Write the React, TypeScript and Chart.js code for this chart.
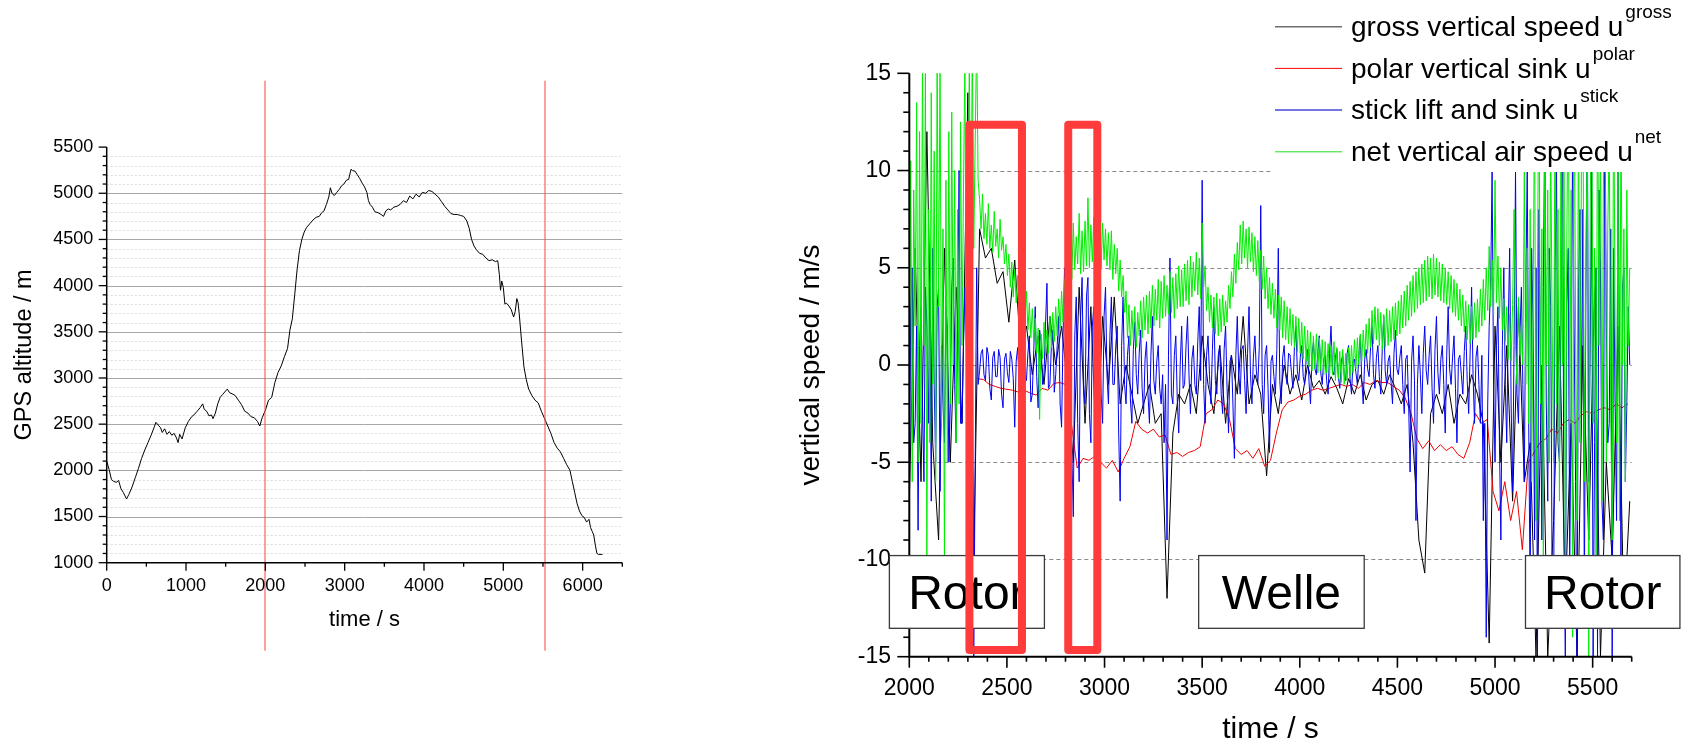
import React, { useEffect, useRef } from "react";
import { Chart, registerables } from "chart.js";

Chart.register(...registerables);

const FONT = "'Liberation Sans', Arial, Helvetica, sans-serif";

// ---------------- Left panel: GPS altitude ----------------
const altTime = [
  0, 30, 60, 90, 120, 150, 180, 210, 250, 280,
  320, 360, 400, 440, 480, 520, 560, 600, 620, 650,
  680, 700, 730, 760, 790, 820, 850, 880, 900, 920,
  950, 990, 1030, 1070, 1100, 1140, 1180, 1210, 1230, 1260,
  1290, 1320, 1340, 1370, 1400, 1430, 1460, 1500, 1520, 1550,
  1580, 1620, 1660, 1700, 1740, 1780, 1820, 1860, 1900, 1930,
  1960, 2000, 2040, 2080, 2120, 2160, 2200, 2240, 2280, 2310,
  2340, 2370, 2400, 2430, 2460, 2490, 2520, 2560, 2600, 2640,
  2680, 2710, 2740, 2770, 2800, 2820, 2840, 2870, 2900, 2930,
  2960, 2990, 3020, 3050, 3080, 3100, 3130, 3160, 3190, 3220,
  3250, 3280, 3300, 3320, 3350, 3380, 3420, 3460, 3490, 3520,
  3550, 3580, 3620, 3660, 3700, 3740, 3780, 3820, 3860, 3900,
  3940, 3980, 4020, 4060, 4100, 4140, 4180, 4220, 4260, 4300,
  4340, 4380, 4420, 4460, 4500, 4540, 4570, 4600, 4630, 4660,
  4700, 4740, 4780, 4820, 4860, 4900, 4930, 4950, 4965, 4980,
  5000, 5020, 5040, 5070, 5100, 5130, 5150, 5170, 5185, 5200,
  5230, 5260, 5290, 5320, 5360, 5400, 5440, 5480, 5520, 5560,
  5600, 5640, 5680, 5720, 5760, 5800, 5840, 5870, 5900, 5930,
  5960, 5990, 6020, 6050, 6080, 6100, 6120, 6140, 6160, 6180,
  6200, 6250,
];
const altValue = [
  2100, 2010, 1900, 1880, 1870, 1890, 1800, 1760, 1690, 1740,
  1820, 1920, 2020, 2130, 2220, 2300, 2380, 2470, 2520, 2490,
  2460, 2410, 2450, 2390, 2420, 2380, 2400, 2350, 2300, 2390,
  2340, 2460, 2530, 2580, 2600, 2640, 2680, 2720, 2660, 2640,
  2590, 2600, 2560, 2620, 2720, 2790, 2820, 2860, 2880, 2840,
  2830, 2810, 2760, 2710, 2640, 2620, 2580, 2570, 2530, 2480,
  2570, 2650, 2760, 2790, 2950, 3060, 3130, 3230, 3320, 3520,
  3640, 3900, 4170, 4380, 4500, 4580, 4630, 4670, 4710, 4740,
  4750, 4790, 4810, 4880, 4960, 5060, 5000, 4975, 5010, 5040,
  5080, 5100, 5140, 5150, 5260, 5245, 5240, 5200, 5160, 5110,
  5070, 5010, 4920, 4880, 4850, 4800, 4790, 4770, 4750, 4810,
  4830, 4820, 4850, 4860, 4880, 4920, 4900, 4970, 4940, 4990,
  4960, 5010, 5000, 5030, 5020, 4990, 4960, 4910, 4860, 4820,
  4780, 4770, 4770, 4760, 4750, 4700, 4620, 4500, 4430, 4390,
  4350, 4340, 4300, 4270, 4280, 4260, 4270, 4120, 3950, 4050,
  3980, 3800, 3810, 3780, 3740, 3660, 3720, 3860, 3820, 3700,
  3400, 3120, 2980, 2880, 2810, 2760, 2730, 2640, 2560, 2480,
  2400, 2300, 2240, 2200, 2130, 2060, 2000, 1880, 1760, 1640,
  1560, 1510, 1490, 1440, 1470, 1380, 1340, 1300, 1190, 1100,
  1090, 1090,
];
const altXAxis = { min: 0, max: 6500, major: 1000, minor: 500, lastLabel: 6000 };
const altYAxis = { min: 1000, max: 5500, major: 500, minor: 100 };
const altMarkerTimes = [2000, 5530];
const altMarkerSpan = [6219, 47];

// ---------------- Right panel: vertical speeds ----------------
// net vertical air speed
const netEarlyStart = 2000;
const netEarlyStep = 7.5;
const netEarly = [
  -2, 10.5, -6, 9, 2, 13.5, -5, 12, -3, 16,
  1, 15, -10, 8, -4, 14, -1, 11, -6, 16,
  3, 16, -3, 7, -10, 9.5, -5, 12, -2, 13,
  0, 10, -4, 8, -2, 12.5, 1, 9, 16, -2,
  5, 16, 3, 17, 6,
];
const netMainStart = 2345;
const netMainStep = 7.5;
const netMain = [
  17, 9.5, 8.5, 7.0, 8.8, 6.5, 7.8, 6.2, 8.3, 6.0, 7.2, 5.8, 7.9, 6.1, 7.0, 5.5, 7.5, 5.9, 6.6, 5.2,
  6.2, 4.6, 5.7, 4.0, 5.3, 3.5, 4.9, 3.2, 4.6, 2.9, 4.3, 2.4, 3.6, 2.2, 3.8, 1.8, 3.2, 1.4, 2.9, 1.2,
  2.4, 0.6, 1.9, -2.8, 1.6, 0.3, 2.2, 0.5, 1.8, 0.6, 2.5, 0.9, 2.7, 1.2, 3.0, 1.5, 3.4, 1.9, 3.8, 2.2,
  4.4, 2.8, 5.0, 3.6, 6.3, 4.4, 7.3, 4.9, 6.6, 5.2, 7.8, 4.7, 6.9, 4.8, 7.4, 5.1, 8.6, 5.0, 7.2, 5.3,
  7.6, 5.2, 7.1, 5.6, 8.2, 5.0, 7.3, 5.4, 7.0, 5.1, 6.8, 4.9, 6.9, 4.4, 6.2, 4.7, 6.0, 3.8, 5.4, 3.5,
  4.6, 2.7, 3.8, 1.4, 3.1, 1.0, 2.8, 1.3, 3.0, 0.9, 2.7, 1.5, 3.3, 1.4, 3.5, 1.8, 3.6, 1.6, 3.8, 1.9,
  4.1, 2.0, 3.9, 2.3, 4.4, 1.9, 4.3, 2.4, 4.6, 2.5, 4.1, 2.6, 4.8, 2.7, 4.5, 2.4, 4.7, 2.9, 5.1, 3.0,
  4.9, 3.0, 5.2, 3.3, 5.4, 3.1, 5.6, 3.5, 5.3, 3.8, 5.8, 3.6, 5.5, 3.4, 7.3, 4.0, 5.1, 2.8, 4.0, 2.2,
  3.6, 1.9, 3.5, 1.6, 3.7, 1.5, 3.4, 1.7, 3.6, 2.0, 3.3, 2.2, 4.1, 2.9, 4.8, 3.5, 5.7, 4.2, 6.3, 4.9,
  7.2, 5.2, 7.4, 5.5, 7.0, 5.0, 7.1, 5.3, 6.8, 4.8, 6.6, 4.6, 6.4, 4.3, 5.9, 3.9, 5.6, 3.4, 5.0, 2.9,
  4.5, 2.6, 4.2, 2.4, 3.9, 1.9, 3.6, 1.8, 3.5, 1.4, 3.3, 1.3, 3.0, 1.1, 2.9, 1.0, 2.6, 0.9, 2.5, 0.7,
  2.4, 0.6, 2.2, 0.3, 2.0, 0.2, 1.8, -0.1, 1.7, -0.3, 1.5, -0.2, 1.6, -0.4, 1.4, -0.3, 1.3, -0.5, 1.2, -0.4,
  1.1, -0.6, 1.0, -0.5, 1.2, -0.8, 0.9, -0.7, 0.7, -0.9, 0.8, -1.0, 0.6, -0.8, 0.9, -0.6, 1.0, -0.4, 1.3, -0.2,
  1.4, 0.0, 1.6, 0.2, 1.8, 0.4, 2.1, 0.6, 2.4, 0.9, 2.8, 1.1, 3.0, 1.3, 2.9, 1.0, 2.7, 0.8, 2.6, 0.9,
  2.9, 1.0, 2.8, 1.2, 3.0, 1.3, 3.2, 1.5, 3.3, 1.6, 3.6, 1.9, 3.8, 2.0, 4.1, 2.3, 4.3, 2.5, 4.6, 2.7,
  4.8, 2.9, 5.0, 3.1, 5.2, 3.2, 5.4, 3.3, 5.6, 3.5, 5.5, 3.4, 5.7, 3.6, 5.5, 3.5, 5.3, 3.3, 5.2, 3.2,
  5.0, 3.1, 4.8, 2.9, 4.6, 2.7, 4.4, 2.5, 4.2, 2.3, 3.9, 2.0, 3.6, 1.7, 3.3, 1.3, 3.1, 1.1, 3.0, 1.3,
  3.2, 1.4, 3.4, 1.7, 3.9, 2.0, 4.4, 2.3, 5.0, 2.8, 6.1, 3.0, 5.4, 2.6, 9.5, 3.2, 5.6, 2.4, 5.0, 1.8,
  3.4, 1.2, 3.0, 0.3, 2.6, 0.2, 3.1, 8.0, 1.0, -1.0, 3.5, 0.5, 2.0, 0.0,
];
const netLateStart = 5150;
const netLateStep = 7.5;
const netLate = [
  10, -1, 6, -3, 8, -6, 3, 14, -8, 5, 16, -2, 7, -10, 12, 0, 9, -5, 12, 2,
  -5, 16, -2, 8, -7, 11, 0, 16, -12, 6, 16, -3, 9, -14, 16, 2, -8, 14, -4, 10,
  16, -6, 5, 12, -15, 8, 16, -3, 6, -10, 16, 1, 12, -7, 9, 16, -5, 7, 12, -2,
  -9, 16, 2, -4, 10, -8, 14, 0, 7, -6, 9, 1, 5,
];

// stick lift and sink
const stickEarlyStart = 2000;
const stickEarlyStep = 7.5;
const stickEarly = [
  -7, 3, 5, -4, -3, 2, -8.5, 1, 3, -2,
  -6, 4, 2, -3, 4, -7, 6, -1, -5, 3,
  4, -6.5, 1, -2, -4, 3, 2, -5, -2, 4,
  5.5, -1, -4, 2, 10, -3, -3, 1, 4, 1,
  -6, 2, -3, 4, -15,
];
const stickMainStart = 2345;
const stickMainStep = 7.5;
const stickMain = [
  5, -1.0, -0.3, 0.6, 0.8, -0.5, -0.8, 0.9, 0.5, -1.2, -1.8, 0.4, 0.7, -0.6, -0.6, 0.8, 0.4, -1.5, -2.2, 0.3,
  0.6, -0.4, -0.9, 0.7, 0.3, -0.7, -3.2, 0.2, 0.9, -0.8, -1.0, 1.4, 2.5, -0.5, -0.8, 0.6, 1.5, -1.9, -1.5, 0.8,
  3.0, -0.6, -2.2, 1.8, 1.2, -1.0, -0.5, 2.0, 4.2, -1.2, -1.0, 0.9, 1.8, -1.4, -0.5, 1.0, 2.5, -2.0, -3.2, 1.5,
  5.0, -2.0, -5.5, 3.0, 2.0, -4.5, -7.8, 1.5, 3.5, -3.0, -6.0, 2.5, 4.5, -1.0, -2.0, 3.5, 4.5, -2.5, -4.0, 2.0,
  3.0, -3.5, -5.5, 1.5, 2.5, -1.5, -3.0, 2.5, 4.0, -0.5, -2.0, 1.5, 3.5, -1.0, -1.0, 1.0, 2.0, -3.5, -7.0, 1.0,
  3.5, -1.0, -2.0, 0.5, 1.5, -1.8, -3.0, 0.8, 2.2, -0.5, -1.5, 0.6, 1.8, -1.2, -2.5, 0.3, 1.2, -1.5, -3.0, 0.5,
  2.5, -0.8, -1.5, 0.2, 1.0, -1.2, -2.0, -0.5, -4.0, -1.0, -9.0, 0.5, 5.5, -1.5, -2.0, 0.5, 1.5, -1.8, -3.5, 0.0,
  2.0, -1.2, -1.0, 1.0, 2.5, -0.5, -2.5, 0.3, 1.0, -1.0, -1.5, 1.2, 3.0, -0.8, 9.5, -1.0, -3.0, 0.5, 1.5, -0.5,
  -2.0, 0.8, 3.0, -0.8, -1.5, 0.5, 1.0, -1.5, -2.5, 0.8, 2.0, -1.2, -3.5, 0.2, 0.5, -2.0, -4.8, 0.5, 2.5, -0.5,
  -1.5, 0.8, 1.0, -0.8, -2.5, 0.6, 3.0, -0.5, -2.0, 0.4, 1.5, -0.3, -1.0, 0.9, 8.2, -1.0, -2.5, 0.5, 1.0, -1.2,
  -4.5, 0.2, 0.5, -0.6, -1.5, 0.8, 6.0, -0.8, -2.0, 0.4, 1.0, -0.5, -1.0, 0.6, 0.5, -0.4, -1.2, 0.9, 2.0, -0.3,
  -0.8, 0.4, 1.0, -0.6, -1.0, 0.3, 0.8, -0.9, -2.0, 0.5, 1.2, -0.2, -0.5, 0.7, 1.5, -0.4, -1.0, 0.3, 0.5, -0.8,
  -1.5, 0.6, 2.0, -0.3, -0.5, 0.4, 0.8, -0.6, -1.2, 0.2, 0.5, -0.5, -0.8, 0.6, 1.0, -0.7, -1.5, 0.2, 0.3, -0.4,
  -1.0, 0.5, 1.5, -0.8, -2.0, 0.3, 0.8, -0.2, -0.6, 0.9, 2.0, -0.5, -1.2, 0.4, 1.0, -0.6, -1.5, 0.8, 2.5, -0.3,
  -1.0, 0.2, 0.5, -0.9, -2.0, 0.6, 1.8, -0.2, -0.5, 0.4, 1.0, -1.0, -2.5, 0.3, 0.5, -2.0, -5.5, 0.2, 1.5, -0.8,
  -8.0, -1.0, 1.0, -0.5, -2.5, 0.6, 2.0, -0.3, -1.0, 0.5, 1.5, -1.2, -3.0, 0.8, 2.5, -0.4, -1.5, 0.3, 1.0, -1.0,
  -3.5, 0.5, 3.0, -0.2, -1.0, 0.4, 1.5, -1.2, -4.0, 0.3, 0.5, -0.5, -1.5, 0.7, 2.0, -0.8, -2.5, 0.6, 4.0, -0.6,
  -3.0, 0.4, 1.0, -1.0, -3.0, 0.5, -8.0, -3.0, -14.0, -2.0, 2.0, 4.0, 10.0, -1.0, -5.0, 1.0, 3.0, -4.0, -9.0, 1.0,
  5.0, -1.0, -4.0, 2.0, 6.0, -2.0, -6.5, 1.0, 10.0, -1.5, -3.0, 1.5, 4.0, -1.0,
];
const stickLateStart = 5150;
const stickLateStep = 7.5;
const stickLate = [
  -6, 4, 10, -3, -12, 6, 2, -9, 5, -15, 8, 0, -9, 4, 13, -2, -7, 6, 3, -11,
  -13, 5, 10, -4, -5, 2, 15, -8, -15, 3, 6, -10, -2, 12, 2, -6, -15, 4, 8, -3,
  8, -12, 3, 14, -6, 1, 10, -15, -4, 5, -15, 9, 5, -7, -9, 15, 2, -4, -3, 7,
  -15, 6, -2, -8, 11, 0, -10, 4, 5, -6, -2, 3, 0,
];

// gross vertical speed
const grossStart = 2000;
const grossStep = 30;
const grossValues = [
  -7, 6, -6, 12, -4, -9, 6, -5, 4, -3,
  14, -10, 7.0, 5.5, 6.0, 4.2, 4.8, 2.2, 5.4, 0.8,
  2.0, -0.5, 1.5, -1.0, 2.5, 0.0, 2.0, -1.0, -5.0, 4.0,
  -3.0, 3.0, -5.0, 2.5, -1.0, 3.5, -2.0, 0.0, -1.5, -3.0,
  -2.0, -1.0, -3.0, -2.5, -12.0, -3.5, -1.5, -2.0, -1.0, -2.5,
  1.5, -1.0, -2.5, 1.0, -3.0, 0.5, -1.5, 2.5, -2.0, -0.5,
  -1.5, -5.7, -1.0, -2.5, 0.0, -1.5, -0.5, -1.8, 0.0, -1.2,
  -0.8, -1.5, -0.6, -1.2, -2.0, -0.7, -1.5, -0.5, -1.8, -1.0,
  -0.8, -1.5, -0.5, -1.2, -2.0, -1.0, -4.0, -9.0, -10.7, -2.5,
  -1.5, -2.5, -1.0, -3.0, -1.5, -2.0, -0.5, -1.5, -3.0, -14.3,
  2, -5, 1, -7, 3, -6, -4, -15, 0, -15,
  -8, 2, -12, -3, -15, 1, -9, 4, -15, -5,
  -10, 2, -13, -7,
];

// polar vertical sink
const polarStart = 2350;
const polarStep = 30;
const polarValues = [
  -0.7, -0.75, -1.0, -1.1, -1.2, -1.25, -1.3, -1.4, -1.3, -1.45,
  -1.55, -1.2, -1.3, -0.95, -0.9, -1.0, -3.0, -5.3, -4.8, -4.9,
  -4.7, -5.0, -5.3, -4.9, -5.5, -4.8, -4.2, -2.9, -3.3, -3.5,
  -3.3, -3.7, -3.6, -4.6, -4.5, -4.7, -4.5, -4.4, -4.2, -2.5,
  -2.3, -1.8, -2.0, -2.8, -4.3, -4.6, -4.4, -4.8, -4.3, -5.2,
  -4.9, -3.5, -2.3, -1.9, -1.8, -1.6, -1.5, -1.3, -1.2, -1.3,
  -1.2, -1.1, -1.0, -1.1, -1.0, -1.2, -0.9, -1.0, -0.8, -0.9,
  -0.9, -1.1, -1.3, -1.7, -2.5, -3.8, -4.3, -3.9, -4.4, -4.1,
  -4.4, -4.2, -4.6, -4.8, -4.0, -2.5, -3.0, -2.8, -6.5, -7.5,
  -6.0, -8.0, -6.5, -9.5, -5.0, -4.5, -4.0, -3.8, -3.3, -3.5,
  -3.0, -2.8, -3.0, -2.6, -2.4, -2.5, -2.3, -2.2, -2.3, -2.0,
  -2.2, -2.0,
];

const speedXAxis = { min: 2000, max: 5700, major: 500, minor: 100, lastLabel: 5500 };
const speedYAxis = { min: -15, max: 15, major: 5, minor: 1 };
const speedGridValues = [-10, -5, 0, 5, 10];

const legendEntries = [
  { text: "gross vertical speed u", sup: "gross", color: "#6e6e6e", width: 1.5 },
  { text: "polar vertical sink u", sup: "polar", color: "#ff0000", width: 1 },
  { text: "stick lift and sink u", sup: "stick", color: "#7474e6", width: 2 },
  { text: "net vertical air speed u", sup: "net", color: "#22e022", width: 1 },
];
const phaseBoxes = [
  { text: "Rotor", from: 1898, to: 2692, top: -9.8, bottom: -13.54 },
  { text: "Welle", from: 3482, to: 4330, top: -9.8, bottom: -13.54 },
  { text: "Rotor", from: 5156, to: 5947, top: -9.8, bottom: -13.54 },
];
const highlightWindows = [
  { from: 2308, to: 2577, top: 12.35, bottom: -14.65 },
  { from: 2814, to: 2963, top: 12.35, bottom: -14.65 },
];

const toPoints = (start: number, step: number, values: number[]) =>
  values.map((v, i) => ({ x: start + i * step, y: v }));

const crisp = (p: number) => Math.round(p) + 0.5;

// ---------------- plugins ----------------
const altitudePlugin = {
  id: "altitudeDecor",
  beforeDatasetsDraw(chart: any) {
    const { ctx, chartArea: ca, scales } = chart;
    const y = scales.y;
    ctx.save();
    for (let v = altYAxis.min + altYAxis.minor; v < altYAxis.max; v += altYAxis.minor) {
      const py = crisp(y.getPixelForValue(v));
      const major = v % altYAxis.major === 0;
      ctx.beginPath();
      ctx.lineWidth = 1;
      ctx.strokeStyle = major ? "#a8a8a8" : "#dcdcdc";
      ctx.setLineDash(major ? [] : [2, 2]);
      ctx.moveTo(ca.left, py);
      ctx.lineTo(ca.right, py);
      ctx.stroke();
    }
    ctx.restore();
  },
  afterDatasetsDraw(chart: any) {
    const { ctx, chartArea: ca, scales } = chart;
    const x = scales.x;
    const y = scales.y;
    ctx.save();
    // red time markers (soft, two-pixel wide like the original)
    ctx.strokeStyle = "#ff4040";
    ctx.lineWidth = 1;
    altMarkerTimes.forEach((t) => {
      const px = Math.round(x.getPixelForValue(t));
      ctx.beginPath();
      ctx.moveTo(px, y.getPixelForValue(altMarkerSpan[0]));
      ctx.lineTo(px, y.getPixelForValue(altMarkerSpan[1]));
      ctx.stroke();
    });
    // axes
    ctx.strokeStyle = "#000";
    ctx.lineWidth = 1.5;
    ctx.beginPath();
    ctx.moveTo(ca.left, ca.top);
    ctx.lineTo(ca.left, ca.bottom);
    ctx.lineTo(ca.right, ca.bottom);
    ctx.stroke();
    ctx.lineWidth = 1.3;
    for (let v = altYAxis.min; v <= altYAxis.max; v += altYAxis.minor) {
      const py = y.getPixelForValue(v);
      const len = v % altYAxis.major === 0 ? 8 : 4;
      ctx.beginPath();
      ctx.moveTo(ca.left - len, py);
      ctx.lineTo(ca.left, py);
      ctx.stroke();
    }
    ctx.fillStyle = "#000";
    ctx.font = `18px ${FONT}`;
    ctx.textAlign = "center";
    ctx.textBaseline = "alphabetic";
    for (let v = altXAxis.min; v <= altXAxis.max; v += altXAxis.minor) {
      const px = x.getPixelForValue(v);
      const major = v % altXAxis.major === 0;
      const len = major ? 8 : 4;
      ctx.beginPath();
      ctx.moveTo(px, ca.bottom);
      ctx.lineTo(px, ca.bottom + len);
      ctx.stroke();
      if (major && v <= altXAxis.lastLabel) ctx.fillText(String(v), px, ca.bottom + 28);
    }
    ctx.restore();
  },
};

const speedPlugin = {
  id: "speedDecor",
  beforeDatasetsDraw(chart: any) {
    const { ctx, chartArea: ca, scales } = chart;
    const y = scales.y;
    ctx.save();
    ctx.strokeStyle = "#8a8a8a";
    ctx.lineWidth = 1;
    ctx.setLineDash([4, 3]);
    speedGridValues.forEach((v) => {
      const py = crisp(y.getPixelForValue(v));
      ctx.beginPath();
      ctx.moveTo(ca.left, py);
      ctx.lineTo(ca.right, py);
      ctx.stroke();
    });
    ctx.restore();
  },
  afterDatasetsDraw(chart: any) {
    const { ctx, chartArea: ca, scales, width } = chart;
    const x = scales.x;
    const y = scales.y;
    ctx.save();
    // axes
    ctx.strokeStyle = "#000";
    ctx.lineWidth = 2;
    ctx.beginPath();
    ctx.moveTo(ca.left, ca.top);
    ctx.lineTo(ca.left, ca.bottom);
    ctx.lineTo(ca.right, ca.bottom);
    ctx.stroke();
    ctx.lineWidth = 1.6;
    for (let v = speedYAxis.min; v <= speedYAxis.max; v += speedYAxis.minor) {
      const py = y.getPixelForValue(v);
      const len = v % speedYAxis.major === 0 ? 12 : 6;
      ctx.beginPath();
      ctx.moveTo(ca.left - len, py);
      ctx.lineTo(ca.left, py);
      ctx.stroke();
    }
    ctx.fillStyle = "#000";
    ctx.font = `23px ${FONT}`;
    ctx.textAlign = "center";
    ctx.textBaseline = "alphabetic";
    for (let v = speedXAxis.min; v <= speedXAxis.max; v += speedXAxis.minor) {
      const px = x.getPixelForValue(v);
      const major = v % speedXAxis.major === 0;
      const len = major ? 11 : 5;
      ctx.beginPath();
      ctx.moveTo(px, ca.bottom);
      ctx.lineTo(px, ca.bottom + len);
      ctx.stroke();
      if (major && v <= speedXAxis.lastLabel) ctx.fillText(String(v), px, ca.bottom + 38.5);
    }
    // legend
    const legLeft = 572;
    ctx.fillStyle = "#fff";
    ctx.fillRect(legLeft, 0, width - legLeft, 172);
    legendEntries.forEach((e, i) => {
      const ry = 26.7 + i * 41.7;
      ctx.strokeStyle = e.color;
      ctx.lineWidth = e.width;
      ctx.beginPath();
      ctx.moveTo(575, ry);
      ctx.lineTo(642, ry);
      ctx.stroke();
      ctx.fillStyle = "#000";
      ctx.font = `28px ${FONT}`;
      ctx.textAlign = "left";
      ctx.textBaseline = "alphabetic";
      ctx.fillText(e.text, 651, ry + 9.3);
      const w = ctx.measureText(e.text).width;
      ctx.font = `19px ${FONT}`;
      ctx.fillText(e.sup, 651 + w + 2, ry - 8.4);
    });
    // phase boxes
    phaseBoxes.forEach((b) => {
      const x0 = x.getPixelForValue(b.from);
      const x1 = x.getPixelForValue(b.to);
      const y0 = y.getPixelForValue(b.top);
      const y1 = y.getPixelForValue(b.bottom);
      ctx.fillStyle = "#fff";
      ctx.fillRect(x0, y0, x1 - x0, y1 - y0);
      ctx.strokeStyle = "#3a3a3a";
      ctx.lineWidth = 1.3;
      ctx.strokeRect(x0, y0, x1 - x0, y1 - y0);
      ctx.fillStyle = "#000";
      ctx.font = `48px ${FONT}`;
      ctx.textAlign = "center";
      ctx.textBaseline = "alphabetic";
      ctx.fillText(b.text, (x0 + x1) / 2, (y0 + y1) / 2 + 17.5);
    });
    // highlight windows
    ctx.strokeStyle = "#ff3b3b";
    ctx.lineWidth = 8;
    ctx.lineJoin = "round";
    highlightWindows.forEach((r) => {
      const x0 = x.getPixelForValue(r.from);
      const x1 = x.getPixelForValue(r.to);
      const y0 = y.getPixelForValue(r.top);
      const y1 = y.getPixelForValue(r.bottom);
      ctx.strokeRect(x0, y0, x1 - x0, y1 - y0);
    });
    ctx.restore();
  },
};

// ---------------- components ----------------
function AltitudeChart() {
  const ref = useRef<HTMLCanvasElement | null>(null);
  useEffect(() => {
    if (!ref.current) return;
    const chart = new Chart(ref.current, {
      type: "line",
      data: {
        datasets: [
          {
            label: "GPS altitude",
            data: altTime.map((t, i) => ({ x: t, y: altValue[i] })),
            borderColor: "#000",
            borderWidth: 1,
            pointRadius: 0,
            tension: 0,
            fill: false,
          },
        ],
      },
      options: {
        animation: false,
        responsive: false,
        devicePixelRatio: 1,
        layout: { padding: { left: 0, top: 147.1, right: 77.7, bottom: 0 } },
        plugins: { legend: { display: false }, tooltip: { enabled: false } },
        scales: {
          x: {
            type: "linear",
            min: altXAxis.min,
            max: altXAxis.max,
            grid: { display: false, drawTicks: false },
            border: { display: false },
            ticks: { display: false },
            title: {
              display: true,
              text: "time / s",
              color: "#000",
              font: { family: FONT, size: 22, lineHeight: 1 },
              padding: { top: 0, bottom: 112 },
            },
            afterFit: (s: any) => {
              s.height = 180.3;
            },
          },
          y: {
            type: "linear",
            min: altYAxis.min,
            max: altYAxis.max,
            grid: { display: false, drawTicks: false },
            border: { display: false },
            ticks: {
              stepSize: altYAxis.major,
              autoSkip: false,
              padding: 13.4,
              color: "#000",
              font: { family: FONT, size: 18 },
              callback: (v: any) => String(v),
            },
            title: {
              display: true,
              text: "GPS altitude / m",
              color: "#000",
              font: { family: FONT, size: 23.5, lineHeight: 1 },
              padding: { top: 12.5, bottom: 0 },
            },
            afterFit: (s: any) => {
              s.width = 106.7;
            },
          },
        },
      },
      plugins: [altitudePlugin],
    } as any);
    return () => chart.destroy();
  }, []);
  return (
    <canvas
      ref={ref}
      width={700}
      height={743}
      style={{ position: "absolute", left: 0, top: 0, width: 700, height: 743 }}
    />
  );
}

function SpeedChart() {
  const ref = useRef<HTMLCanvasElement | null>(null);
  useEffect(() => {
    if (!ref.current) return;
    const line = (label: string, data: any[], color: string, order: number) => ({
      label,
      data,
      borderColor: color,
      borderWidth: 1,
      pointRadius: 0,
      tension: 0,
      fill: false,
      order,
    });
    const netData = [
      ...toPoints(netEarlyStart, netEarlyStep, netEarly),
      ...toPoints(netMainStart, netMainStep, netMain),
      ...toPoints(netLateStart, netLateStep, netLate),
    ];
    const stickData = [
      ...toPoints(stickEarlyStart, stickEarlyStep, stickEarly),
      ...toPoints(stickMainStart, stickMainStep, stickMain),
      ...toPoints(stickLateStart, stickLateStep, stickLate),
    ];
    const chart = new Chart(ref.current, {
      type: "line",
      data: {
        datasets: [
          line("gross vertical speed", toPoints(grossStart, grossStep, grossValues), "#000000", 3),
          line("polar vertical sink", toPoints(polarStart, polarStep, polarValues), "#ee0000", 2),
          line("stick lift and sink", stickData, "#0000ee", 1),
          line("net vertical air speed", netData, "#00ee00", 0),
        ],
      },
      options: {
        animation: false,
        responsive: false,
        devicePixelRatio: 1,
        layout: { padding: { left: 0, top: 73.3, right: 63.3, bottom: 0 } },
        plugins: { legend: { display: false }, tooltip: { enabled: false } },
        scales: {
          x: {
            type: "linear",
            min: speedXAxis.min,
            max: speedXAxis.max,
            grid: { display: false, drawTicks: false },
            border: { display: false },
            ticks: { display: false },
            title: {
              display: true,
              text: "time / s",
              color: "#000",
              font: { family: FONT, size: 30, lineHeight: 0.86 },
              padding: { top: 0, bottom: 0 },
            },
            afterFit: (s: any) => {
              s.height = 86.3;
            },
          },
          y: {
            type: "linear",
            min: speedYAxis.min,
            max: speedYAxis.max,
            grid: { display: false, drawTicks: false },
            border: { display: false },
            ticks: {
              stepSize: speedYAxis.major,
              autoSkip: false,
              padding: 18.3,
              color: "#000",
              font: { family: FONT, size: 23 },
              callback: (v: any) => String(v),
            },
            title: {
              display: true,
              text: "vertical speed / m/s",
              color: "#000",
              font: { family: FONT, size: 28, lineHeight: 1 },
              padding: { top: 97, bottom: 0 },
            },
            afterFit: (s: any) => {
              s.width = 209.3;
            },
          },
        },
      },
      plugins: [speedPlugin],
    } as any);
    return () => chart.destroy();
  }, []);
  return (
    <canvas
      ref={ref}
      width={995}
      height={743}
      style={{ position: "absolute", left: 700, top: 0, width: 995, height: 743 }}
    />
  );
}

export default function App() {
  return (
    <div
      style={{
        position: "fixed",
        left: 0,
        top: 0,
        width: 1695,
        height: 743,
        background: "#fff",
        overflow: "hidden",
      }}
    >
      <AltitudeChart />
      <SpeedChart />
    </div>
  );
}
